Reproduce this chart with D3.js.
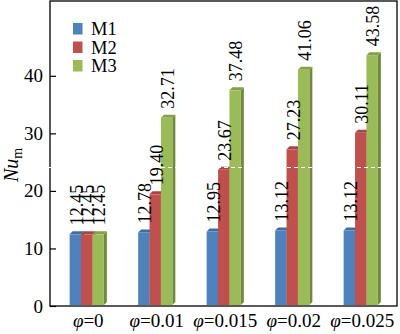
<!DOCTYPE html>
<html>
<head>
<meta charset="utf-8">
<script src="https://cdn.jsdelivr.net/npm/d3@7"></script>
<style>
html,body{margin:0;padding:0;background:#fff;}
svg{display:block;}
svg text{font-family:"Liberation Serif","DejaVu Serif","Times New Roman",serif;}
</style>
</head>
<body>
<svg id="chart" width="400" height="334"></svg>
<script>
const categories = ["0", "0.01", "0.015", "0.02", "0.025"];
const seriesNames = ["M1", "M2", "M3"];
const M1 = [12.45, 12.78, 12.95, 13.12, 13.12];
const M2 = [12.45, 19.40, 23.67, 27.23, 30.11];
const M3 = [12.45, 32.71, 37.48, 41.06, 43.58];
const valueLabels = [
  ["12.45", "12.78", "12.95", "13.12", "13.12"],
  ["12.45", "19.40", "23.67", "27.23", "30.11"],
  ["12.45", "32.71", "37.48", "41.06", "43.58"]
];
const yTicks = [0, 10, 20, 30, 40];
const series = [M1, M2, M3];

const front = ["#4F81BD", "#C0504D", "#9BBB59"];
const side  = ["#375E8C", "#8E3A38", "#6F8A3C"];
const topc  = ["#3F6CA3", "#A84542", "#84A148"];
const FONT = '"Liberation Serif","DejaVu Serif","Times New Roman",serif';

const svg = d3.select("#chart");
const L = 50, R = 397, T = 1, B = 306;

const y = d3.scaleLinear().domain([0, 53]).range([B, T]);
const x0 = d3.scaleBand().domain(categories).range([54, 396.5]).paddingInner(0).paddingOuter(0);
const bw = 11.4;
const depth = 3;
const x1 = d3.scaleBand().domain(seriesNames).range([0, bw * 3]);

// frame
svg.append("rect").attr("x", L).attr("y", T).attr("width", R - L).attr("height", B - T)
  .attr("fill", "none").attr("stroke", "#000").attr("stroke-width", 1.3);

// y axis ticks (inward) and labels
const yAxis = d3.axisLeft(y).tickValues(yTicks).tickSize(-6).tickPadding(7).tickFormat(d3.format("d"));
const ga = svg.append("g").attr("transform", `translate(${L},0)`).call(yAxis)
  .attr("font-family", FONT);
ga.select(".domain").remove();
ga.selectAll("line").attr("stroke", "#000").attr("stroke-width", 1.2);
ga.selectAll("text").attr("font-size", 19).attr("fill", "#000").attr("font-family", FONT);

// bars
const groups = svg.append("g");
categories.forEach((c, i) => {
  const gx = x0(c) + (x0.bandwidth() - bw * 3) / 2 - 1.5;
  seriesNames.forEach((s, j) => {
    const v = series[j][i];
    const bx = gx + x1(s);
    const by = y(v);
    const bb = B - 1;
    const g = groups.append("g");
    g.append("path")
      .attr("d", `M${bx + bw},${by} L${bx + bw + depth},${by - depth} L${bx + bw + depth},${bb - depth} L${bx + bw},${bb} Z`)
      .attr("fill", side[j]);
    g.append("path")
      .attr("d", `M${bx},${by} L${bx + depth},${by - depth} L${bx + bw + depth},${by - depth} L${bx + bw},${by} Z`)
      .attr("fill", topc[j]);
    g.append("rect").attr("x", bx).attr("y", by).attr("width", bw).attr("height", bb - by)
      .attr("fill", front[j]);
    const lx = bx + bw / 2 + 1;
    const ly = by - 9;
    svg.append("text")
      .attr("transform", `translate(${lx},${ly}) rotate(-90)`)
      .attr("dy", "0.35em")
      .attr("text-anchor", "start")
      .attr("font-family", FONT)
      .attr("font-size", 18)
      .attr("fill", "#000")
      .text(valueLabels[j][i]);
  });
});

// dashed white artifact line
svg.append("line").attr("x1", L - 1).attr("x2", R).attr("y1", 167.5).attr("y2", 167.5)
  .attr("stroke", "#fff").attr("stroke-width", 1.2).attr("stroke-dasharray", "4,3");

// x labels
categories.forEach(c => {
  const t = svg.append("text")
    .attr("x", x0(c) + x0.bandwidth() / 2)
    .attr("y", 327)
    .attr("text-anchor", "middle")
    .attr("font-family", FONT)
    .attr("font-size", 19)
    .attr("fill", "#000");
  t.append("tspan").attr("font-style", "italic").text("φ");
  t.append("tspan").text("=" + c);
});

// y axis title
const yt = svg.append("text")
  .attr("transform", "translate(18,165) rotate(-90)")
  .attr("text-anchor", "middle")
  .attr("font-family", FONT)
  .attr("font-size", 20)
  .attr("fill", "#000");
yt.append("tspan").attr("font-style", "italic").text("Nu");
yt.append("tspan").attr("font-size", 14).attr("dy", 4).text("m");

// legend
seriesNames.forEach((s, j) => {
  const base = 35 + j * 18.5;
  svg.append("rect").attr("x", 73).attr("y", base - 12).attr("width", 9.5).attr("height", 11.5)
    .attr("fill", front[j]);
  svg.append("text").attr("x", 91).attr("y", base).attr("font-family", FONT)
    .attr("font-size", 18.5).attr("fill", "#000").text(s);
});
</script>
</body>
</html>
